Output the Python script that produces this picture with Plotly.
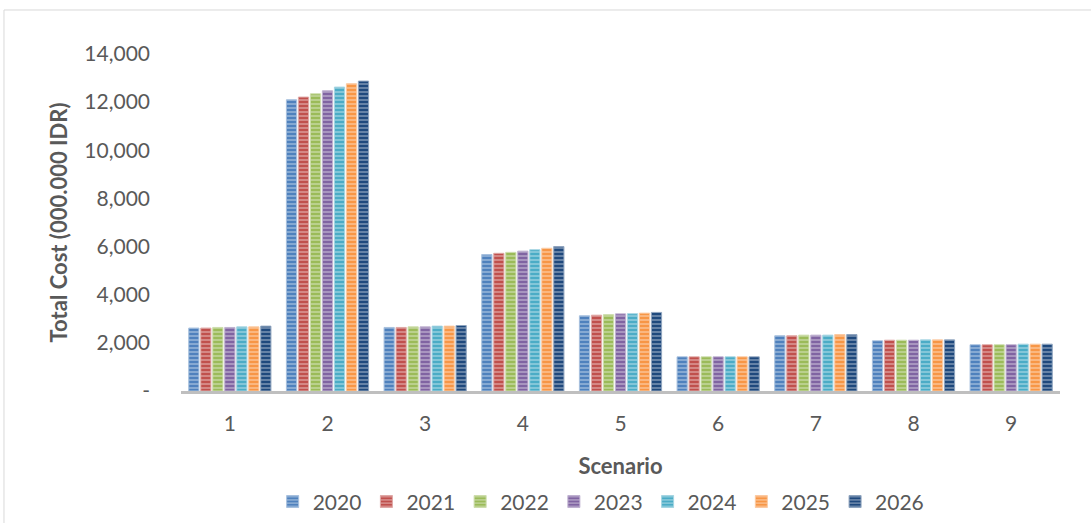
import plotly.graph_objects as go

scenarios = ["1", "2", "3", "4", "5", "6", "7", "8", "9"]
years = ["2020", "2021", "2022", "2023", "2024", "2025", "2026"]

# values per year, one entry per scenario (000.000 IDR)
v2020 = [2615, 12100, 2640, 5670, 3125, 1420, 2295, 2085, 1920]
v2021 = [2615, 12210, 2640, 5720, 3150, 1420, 2295, 2110, 1920]
v2022 = [2640, 12345, 2665, 5760, 3170, 1420, 2320, 2110, 1920]
v2023 = [2640, 12470, 2665, 5810, 3205, 1420, 2320, 2110, 1920]
v2024 = [2665, 12625, 2695, 5870, 3210, 1420, 2320, 2125, 1945]
v2025 = [2665, 12765, 2695, 5930, 3235, 1420, 2345, 2125, 1945]
v2026 = [2695, 12875, 2720, 6000, 3265, 1420, 2345, 2125, 1945]
series = [v2020, v2021, v2022, v2023, v2024, v2025, v2026]

colors = ["#4F81BD", "#C0504D", "#9BBB59", "#8064A2", "#4BACC6", "#F79646", "#1F497D"]
edge = ["#A7C0DE", "#DFA8A6", "#CDDDAC", "#BFB1D0", "#A5D5E2", "#FBCAA2", "#8FA4BE"]

ytickvals = [0, 2000, 4000, 6000, 8000, 10000, 12000, 14000]
yticktext = ["-", "2,000", "4,000", "6,000", "8,000", "10,000", "12,000", "14,000"]

FONT = "Lato, 'Open Sans', sans-serif"
GREY = "#595959"

fig = go.Figure()
for name, vals, c, e in zip(years, series, colors, edge):
    fig.add_trace(go.Bar(
        x=scenarios, y=vals, name=name,
        marker=dict(
            color=c,
            line=dict(color=e, width=1),
            pattern=dict(shape="-", fgcolor="white", fgopacity=0.45, size=4, solidity=0.35),
        ),
    ))

fig.update_layout(
    width=1091, height=523,
    barmode="group", bargap=0.14, bargroupgap=0.15,
    paper_bgcolor="white", plot_bgcolor="white",
    margin=dict(l=181, r=31, t=54, b=132, autoexpand=False),
    font=dict(family=FONT, size=21, color=GREY),
    legend=dict(orientation="h", x=0.478, xanchor="center", y=-0.329, yanchor="middle",
                font=dict(size=21, color=GREY), itemwidth=30, traceorder="normal"),
    showlegend=True,
)
fig.update_xaxes(
    type="category", showline=True, linecolor="#BFBFBF", linewidth=3, automargin=False,
    showgrid=False, ticks="", tickfont=dict(size=21, color=GREY), ticklabelstandoff=12,
    title=dict(text="<b>Scenario</b>", font=dict(size=22, color=GREY), standoff=25),
)
fig.update_yaxes(
    range=[0, 14000], tickvals=ytickvals, ticktext=yticktext, automargin=False,
    showgrid=False, zeroline=False, showline=False, ticks="",
    ticklabelstandoff=30, tickfont=dict(size=21, color=GREY),
    title=dict(text="<b>Total Cost (000.000 IDR)</b>", font=dict(size=22, color=GREY), standoff=10),
)
fig.add_shape(type="rect", xref="paper", yref="paper",
              x0=-0.2014, x1=1.2, y0=-0.6, y1=1.1306,
              line=dict(color="#D9D9D9", width=1), fillcolor="rgba(0,0,0,0)", layer="below")

fig.write_html("out.html", config={"displayModeBar": False},
               post_script="document.body.style.margin='0';")
